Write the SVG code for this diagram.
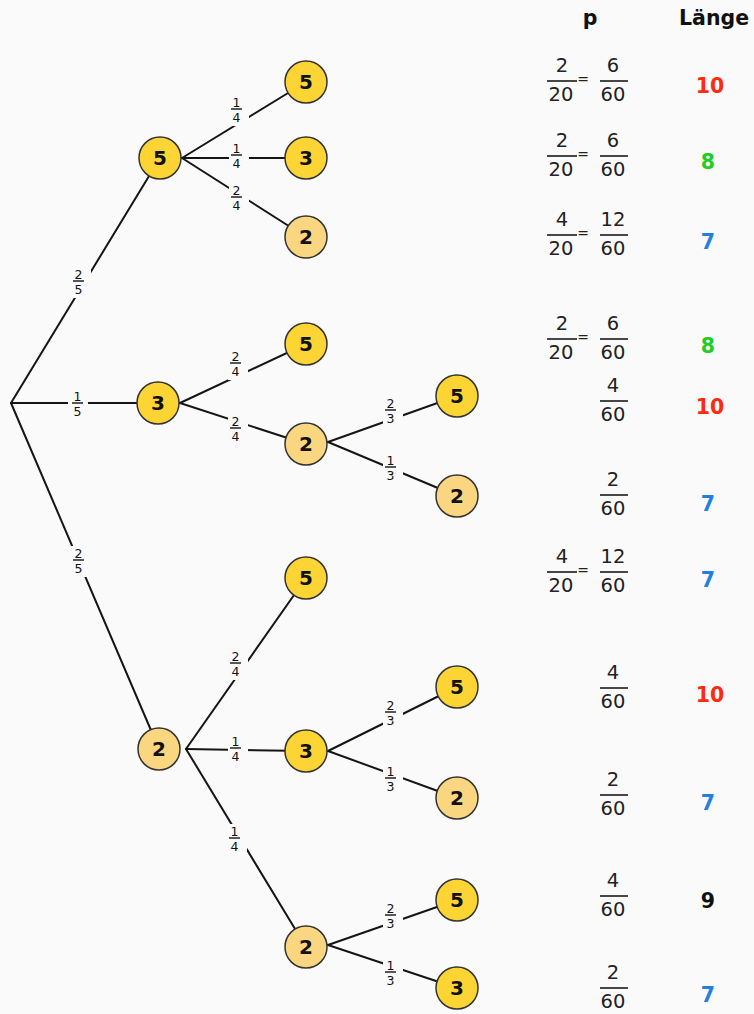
<svg xmlns="http://www.w3.org/2000/svg" width="754" height="1014" viewBox="0 0 754 1014">
<style>
.edge{stroke:#151515;stroke-width:2;fill:none;stroke-linecap:round}
.gap{fill:#fafafa}
.lbl{font-family:"DejaVu Sans","Liberation Sans",sans-serif;font-size:12.5px;fill:#111;text-anchor:middle}
.lbar{stroke:#111;stroke-width:1.4}
.node circle{stroke:#333;stroke-width:1.5}
.y circle{fill:#fcd535}
.l circle{fill:#fbd680}
.node text{font-family:"DejaVu Sans","Liberation Sans",sans-serif;font-weight:bold;font-size:20px;fill:#111;text-anchor:middle}
.hdr{font-family:"DejaVu Sans","Liberation Sans",sans-serif;font-weight:bold;font-size:20.5px;fill:#111}
.fr{font-family:"DejaVu Sans","Liberation Sans",sans-serif;font-size:19.5px;fill:#222;text-anchor:middle}
.fbar{stroke:#333;stroke-width:1.8}
.eq{font-family:"DejaVu Sans","Liberation Sans",sans-serif;font-size:14px;fill:#222;text-anchor:middle}
.val{font-family:"DejaVu Sans","Liberation Sans",sans-serif;font-weight:bold;font-size:20.5px;text-anchor:middle}
.red{fill:#ff2a10}.grn{fill:#22cc22}.blu{fill:#1f80de}.blk{fill:#111}
</style>
<defs>
<symbol id="g14" overflow="visible"><rect class="gap" x="-7" y="-14" width="20" height="31"/><line class="lbar" x1="-5" y1="0" x2="6" y2="0"/><text class="lbl" x="0.5" y="-2.5">1</text><text class="lbl" x="0.5" y="13">4</text></symbol>
<symbol id="g24" overflow="visible"><rect class="gap" x="-7" y="-14" width="20" height="31"/><line class="lbar" x1="-5" y1="0" x2="6" y2="0"/><text class="lbl" x="0.5" y="-2.5">2</text><text class="lbl" x="0.5" y="13">4</text></symbol>
<symbol id="g25" overflow="visible"><rect class="gap" x="-7" y="-14" width="20" height="31"/><line class="lbar" x1="-5" y1="0" x2="6" y2="0"/><text class="lbl" x="0.5" y="-2.5">2</text><text class="lbl" x="0.5" y="13">5</text></symbol>
<symbol id="g15" overflow="visible"><rect class="gap" x="-9" y="-14" width="20" height="31"/><line class="lbar" x1="-5" y1="0" x2="6" y2="0"/><text class="lbl" x="0.5" y="-2.5">1</text><text class="lbl" x="0.5" y="13">5</text></symbol>
<symbol id="g23" overflow="visible"><rect class="gap" x="-7" y="-14" width="20" height="31"/><line class="lbar" x1="-5" y1="0" x2="6" y2="0"/><text class="lbl" x="0.5" y="-2.5">2</text><text class="lbl" x="0.5" y="13">3</text></symbol>
<symbol id="g13" overflow="visible"><rect class="gap" x="-7" y="-14" width="20" height="31"/><line class="lbar" x1="-5" y1="0" x2="6" y2="0"/><text class="lbl" x="0.5" y="-2.5">1</text><text class="lbl" x="0.5" y="13">3</text></symbol>
</defs>
<rect x="0" y="0" width="754" height="1014" fill="#fafafa"/>

<g id="connectors">
<line class="edge" x1="11" y1="403" x2="160" y2="158"/>
<line class="edge" x1="11" y1="403" x2="158" y2="403"/>
<line class="edge" x1="11" y1="403" x2="159" y2="749"/>
<line class="edge" x1="182" y1="158" x2="306" y2="82"/>
<line class="edge" x1="182" y1="158" x2="306" y2="158"/>
<line class="edge" x1="182" y1="158" x2="306" y2="237"/>
<line class="edge" x1="180" y1="403" x2="306" y2="344"/>
<line class="edge" x1="180" y1="403" x2="306" y2="444"/>
<line class="edge" x1="328" y1="442" x2="457" y2="396"/>
<line class="edge" x1="328" y1="442" x2="457" y2="496"/>
<line class="edge" x1="186" y1="749" x2="306" y2="578"/>
<line class="edge" x1="186" y1="749" x2="306" y2="751"/>
<line class="edge" x1="186" y1="749" x2="306" y2="947"/>
<line class="edge" x1="328" y1="751" x2="457" y2="687"/>
<line class="edge" x1="328" y1="751" x2="457" y2="798"/>
<line class="edge" x1="328" y1="945" x2="457" y2="900"/>
<line class="edge" x1="328" y1="945" x2="457" y2="988"/>
<use href="#g25" x="78" y="281"/>
<use href="#g15" x="77" y="403"/>
<use href="#g25" x="78" y="560"/>
<use href="#g14" x="236" y="109"/>
<use href="#g14" x="236" y="155"/>
<use href="#g24" x="236" y="197"/>
<use href="#g24" x="235" y="363"/>
<use href="#g24" x="235" y="428"/>
<use href="#g23" x="390" y="410"/>
<use href="#g13" x="390" y="467"/>
<use href="#g24" x="235" y="663"/>
<use href="#g14" x="235" y="748"/>
<use href="#g14" x="234" y="838"/>
<use href="#g23" x="390" y="712"/>
<use href="#g13" x="390" y="778"/>
<use href="#g23" x="390" y="915"/>
<use href="#g13" x="390" y="972"/>
</g>

<g id="n1" class="node y"><circle cx="160" cy="158" r="21"/><text x="160" y="165">5</text></g>
<g id="n2" class="node y"><circle cx="158" cy="403" r="21"/><text x="158" y="410">3</text></g>
<g id="n3" class="node l"><circle cx="159" cy="749" r="21"/><text x="159" y="756">2</text></g>
<g id="n4" class="node y"><circle cx="306" cy="82" r="21"/><text x="306" y="89">5</text></g>
<g id="n5" class="node y"><circle cx="306" cy="158" r="21"/><text x="306" y="165">3</text></g>
<g id="n6" class="node l"><circle cx="306" cy="237" r="21"/><text x="306" y="244">2</text></g>
<g id="n7" class="node y"><circle cx="306" cy="344" r="21"/><text x="306" y="351">5</text></g>
<g id="n8" class="node l"><circle cx="306" cy="444" r="21"/><text x="306" y="451">2</text></g>
<g id="n9" class="node y"><circle cx="306" cy="578" r="21"/><text x="306" y="585">5</text></g>
<g id="n10" class="node y"><circle cx="306" cy="751" r="21"/><text x="306" y="758">3</text></g>
<g id="n11" class="node l"><circle cx="306" cy="947" r="21"/><text x="306" y="954">2</text></g>
<g id="n12" class="node y"><circle cx="457" cy="396" r="21"/><text x="457" y="403">5</text></g>
<g id="n13" class="node l"><circle cx="457" cy="496" r="21"/><text x="457" y="503">2</text></g>
<g id="n14" class="node y"><circle cx="457" cy="687" r="21"/><text x="457" y="694">5</text></g>
<g id="n15" class="node l"><circle cx="457" cy="798" r="21"/><text x="457" y="805">2</text></g>
<g id="n16" class="node y"><circle cx="457" cy="900" r="21"/><text x="457" y="907">5</text></g>
<g id="n17" class="node y"><circle cx="457" cy="988" r="21"/><text x="457" y="995">3</text></g>

<g id="table">
<text class="hdr" x="590" y="25" text-anchor="middle">p</text>
<text class="hdr" x="679" y="25">Länge</text>

<g id="row1"><text class="fr" x="562" y="72">2</text><line class="fbar" x1="547" y1="81" x2="577" y2="81"/><text class="fr" x="561" y="101">20</text><text class="eq" x="583" y="84">=</text><text class="fr" x="613" y="72">6</text><line class="fbar" x1="600" y1="81" x2="628" y2="81"/><text class="fr" x="613" y="101">60</text><text class="val red" x="710" y="93">10</text></g>
<g id="row2"><text class="fr" x="562" y="147">2</text><line class="fbar" x1="547" y1="156" x2="577" y2="156"/><text class="fr" x="561" y="176">20</text><text class="eq" x="583" y="159">=</text><text class="fr" x="613" y="147">6</text><line class="fbar" x1="600" y1="156" x2="628" y2="156"/><text class="fr" x="613" y="176">60</text><text class="val grn" x="708" y="169">8</text></g>
<g id="row3"><text class="fr" x="562" y="226">4</text><line class="fbar" x1="547" y1="235" x2="577" y2="235"/><text class="fr" x="561" y="255">20</text><text class="eq" x="583" y="238">=</text><text class="fr" x="613" y="226">12</text><line class="fbar" x1="600" y1="235" x2="628" y2="235"/><text class="fr" x="613" y="255">60</text><text class="val blu" x="708" y="249">7</text></g>
<g id="row4"><text class="fr" x="562" y="330">2</text><line class="fbar" x1="547" y1="339" x2="577" y2="339"/><text class="fr" x="561" y="359">20</text><text class="eq" x="583" y="342">=</text><text class="fr" x="613" y="330">6</text><line class="fbar" x1="600" y1="339" x2="628" y2="339"/><text class="fr" x="613" y="359">60</text><text class="val grn" x="708" y="353">8</text></g>
<g id="row5"><text class="fr" x="613" y="392">4</text><line class="fbar" x1="600" y1="401" x2="628" y2="401"/><text class="fr" x="613" y="421">60</text><text class="val red" x="710" y="414">10</text></g>
<g id="row6"><text class="fr" x="613" y="486">2</text><line class="fbar" x1="600" y1="495" x2="628" y2="495"/><text class="fr" x="613" y="515">60</text><text class="val blu" x="708" y="511">7</text></g>
<g id="row7"><text class="fr" x="562" y="563">4</text><line class="fbar" x1="547" y1="572" x2="577" y2="572"/><text class="fr" x="561" y="592">20</text><text class="eq" x="583" y="575">=</text><text class="fr" x="613" y="563">12</text><line class="fbar" x1="600" y1="572" x2="628" y2="572"/><text class="fr" x="613" y="592">60</text><text class="val blu" x="708" y="587">7</text></g>
<g id="row8"><text class="fr" x="613" y="679">4</text><line class="fbar" x1="600" y1="688" x2="628" y2="688"/><text class="fr" x="613" y="708">60</text><text class="val red" x="710" y="702">10</text></g>
<g id="row9"><text class="fr" x="613" y="786">2</text><line class="fbar" x1="600" y1="795" x2="628" y2="795"/><text class="fr" x="613" y="815">60</text><text class="val blu" x="708" y="810">7</text></g>
<g id="row10"><text class="fr" x="613" y="887">4</text><line class="fbar" x1="600" y1="896" x2="628" y2="896"/><text class="fr" x="613" y="916">60</text><text class="val blk" x="708" y="908">9</text></g>
<g id="row11"><text class="fr" x="613" y="979">2</text><line class="fbar" x1="600" y1="988" x2="628" y2="988"/><text class="fr" x="613" y="1008">60</text><text class="val blu" x="708" y="1002">7</text></g>
</g>
</svg>
